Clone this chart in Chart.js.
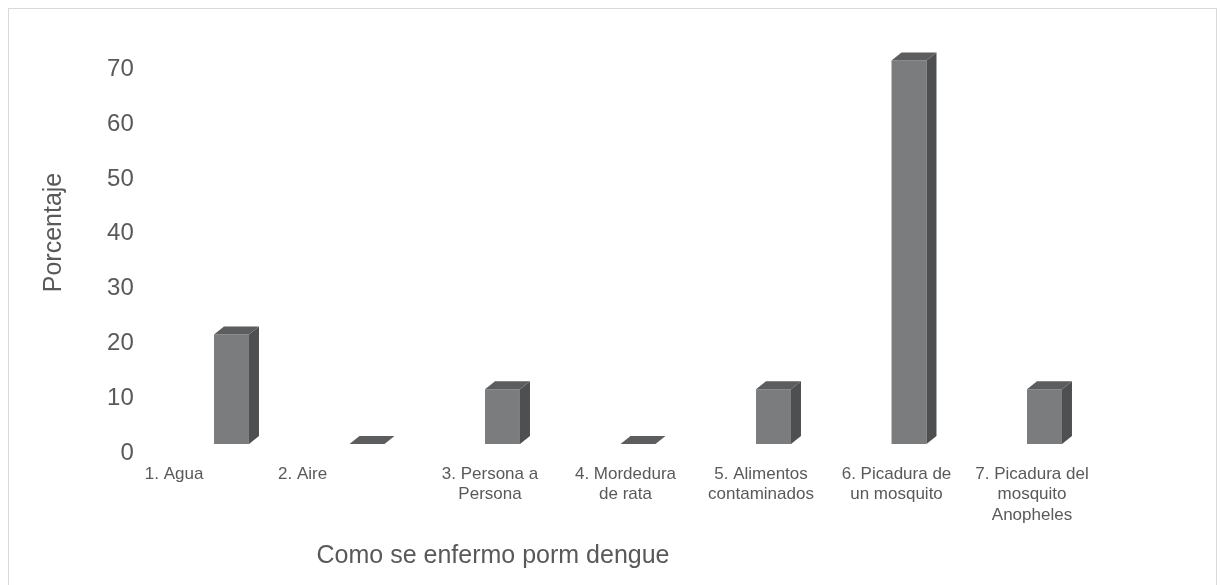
<!DOCTYPE html>
<html>
<head>
<meta charset="utf-8">
<script src="https://cdn.jsdelivr.net/npm/chart.js@4"></script>
<style>
  html, body { margin: 0; padding: 0; background: #ffffff; }
  #wrap { position: relative; width: 1220px; height: 585px; overflow: hidden; }
  #frame { position: absolute; left: 8px; top: 8px; width: 1207px; height: 620px;
           border: 1px solid #d9d9d9; pointer-events: none; }
  canvas { position: absolute; left: 0; top: 0; }
</style>
</head>
<body>
<div id="wrap">
  <canvas id="c" width="1220" height="585"></canvas>
  <div id="frame"></div>
</div>
<script>
// ---- data ----
const categories = [
  '1. Agua',
  '2. Aire',
  ['3. Persona a', 'Persona'],
  ['4. Mordedura', 'de rata'],
  ['5. Alimentos', 'contaminados'],
  ['6. Picadura de', 'un mosquito'],
  ['7. Picadura del', 'mosquito', 'Anopheles']
];
const values = [20, 0, 10, 0, 10, 70, 10];
const yTicks = [0, 10, 20, 30, 40, 50, 60, 70];
const yTitle = 'Porcentaje';
const xTitle = 'Como se enfermo porm dengue';

// ---- styling ----
const TEXT = '#595959';
const FRONT = '#7b7c7e';
const SIDE = '#4e4f51';
const TOP = '#5c5d5f';
const DEPTH_X = 10, DEPTH_Y = 8;
const FONT = "'Liberation Sans', Arial, sans-serif";
// extra trailing space to reproduce the original placement of single-line labels
const labelPad = { 0: 19, 1: 22 };

const bar3d = {
  id: 'bar3d',
  afterDatasetsDraw(chart) {
    const ctx = chart.ctx;
    chart.data.datasets.forEach((ds, di) => {
      const meta = chart.getDatasetMeta(di);
      meta.data.forEach((el) => {
        const p = el.getProps(['x', 'y', 'base', 'width'], true);
        const l = p.x - p.width / 2, r = p.x + p.width / 2;
        const t = Math.min(p.y, p.base), b = Math.max(p.y, p.base);
        ctx.save();
        if (b - t > 0.5) {
          ctx.fillStyle = SIDE;
          ctx.beginPath();
          ctx.moveTo(r, t);
          ctx.lineTo(r + DEPTH_X, t - DEPTH_Y);
          ctx.lineTo(r + DEPTH_X, b - DEPTH_Y);
          ctx.lineTo(r, b);
          ctx.closePath();
          ctx.fill();
        }
        ctx.fillStyle = TOP;
        ctx.beginPath();
        ctx.moveTo(l, t);
        ctx.lineTo(l + DEPTH_X, t - DEPTH_Y);
        ctx.lineTo(r + DEPTH_X, t - DEPTH_Y);
        ctx.lineTo(r, t);
        ctx.closePath();
        ctx.fill();
        ctx.restore();
      });
    });
  }
};

new Chart(document.getElementById('c'), {
  type: 'bar',
  data: {
    labels: categories,
    datasets: [{
      data: values,
      backgroundColor: FRONT,
      borderWidth: 0,
      categoryPercentage: 1,
      barPercentage: 0.258
    }]
  },
  options: {
    responsive: false,
    animation: false,
    devicePixelRatio: 1,
    layout: { padding: { left: 0, right: 107.75, top: 21, bottom: 0 } },
    plugins: { legend: { display: false }, tooltip: { enabled: false } },
    scales: {
      x: {
        grid: { display: false, drawTicks: false },
        border: { display: false },
        ticks: {
          color: TEXT,
          font: { family: FONT, size: 17, lineHeight: 1.2 },
          padding: 20,
          labelOffset: -12.5,
          maxRotation: 0,
          minRotation: 0,
          autoSkip: false,
          callback: function (v, i) {
            const lab = categories[i];
            if (labelPad[i]) return lab + ' '.repeat(labelPad[i]);
            return lab;
          }
        },
        title: {
          display: true,
          text: ' '.repeat(22) + xTitle,
          align: 'start',
          color: TEXT,
          font: { family: FONT, size: 25, lineHeight: 1.2 },
          padding: { top: 0, bottom: 14 }
        },
        afterFit(scale) {
          scale.height = 141;
          scale.paddingLeft = 0; scale.paddingRight = 0;
        }
      },
      y: {
        min: 0,
        max: 77.2,
        grid: { display: false, drawTicks: false },
        border: { display: false },
        afterBuildTicks(scale) { scale.ticks = yTicks.map(v => ({ value: v })); },
        ticks: {
          color: TEXT,
          font: { family: FONT, size: 24 },
          padding: 30,
          labelOffset: 9,
          includeBounds: false
        },
        title: {
          display: true,
          text: yTitle,
          color: TEXT,
          font: { family: FONT, size: 25, lineHeight: 1.2 },
          padding: { top: 39, bottom: 0 }
        },
        afterFit(scale) {
          scale.width = 163.75;
          scale.paddingTop = 0; scale.paddingBottom = 0;
        }
      }
    }
  },
  plugins: [bar3d]
});
</script>
</body>
</html>
